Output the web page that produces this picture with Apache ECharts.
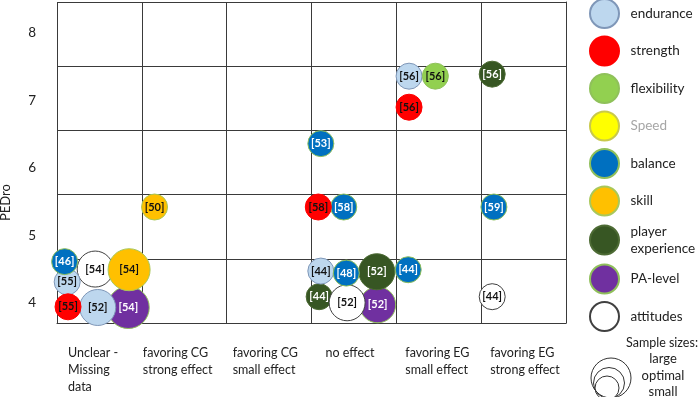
<!DOCTYPE html>
<html>
<head>
<meta charset="utf-8">
<script src="https://cdn.jsdelivr.net/npm/echarts@6/dist/echarts.min.js"></script>
<style>
    html, body { margin: 0; padding: 0; background: #fff; }
    #chart { width: 700px; height: 397px; }
</style>
</head>
<body>
<div id="chart"></div>
<script>
// x categories (one column per effect) and PEDro ticks
var effectLabels = ['Unclear -\nMissing\ndata', 'favoring CG\nstrong effect', 'favoring CG\nsmall effect', 'no effect', 'favoring EG\nsmall effect', 'favoring EG\nstrong effect'];
var pedroTicks = [4, 5, 6, 7, 8];
var outcomes = ['endurance', 'strength', 'flexibility', 'Speed', 'balance', 'skill', 'player experience', 'PA-level', 'attitudes'];
var sampleSizes = ['large', 'optimal', 'small'];

// [effect column position, PEDro position, reference, sample size]
var endurance = [[0.12, 4.31, 55, 'small'], [0.48, 3.93, 52, 'optimal'], [3.11, 4.47, 44, 'small'], [4.15, 7.36, 56, 'small']];
var strength = [[0.13, 3.94, 55, 'small'], [3.08, 5.42, 58, 'small'], [4.15, 6.90, 56, 'small']];
var flexibility = [[4.46, 7.36, 56, 'small']];
var speed = [];
var balance = [[0.09, 4.61, 46, 'small'], [3.11, 6.36, 53, 'small'], [3.38, 5.42, 58, 'small'], [3.41, 4.44, 48, 'small'], [4.14, 4.49, 44, 'small'], [5.15, 5.42, 59, 'small']];
var skill = [[1.15, 5.42, 50, 'small'], [0.85, 4.49, 54, 'large']];
var playerExperience = [[3.77, 4.46, 52, 'optimal'], [3.09, 4.09, 44, 'small'], [5.13, 7.39, 56, 'small']];
var paLevel = [[0.84, 3.93, 54, 'large'], [3.78, 3.97, 52, 'optimal']];
var attitudes = [[0.45, 4.50, 54, 'optimal'], [3.42, 4.00, 52, 'optimal'], [5.13, 4.09, 44, 'small']];

var seriesData = [endurance, strength, flexibility, speed, balance, skill, playerExperience, paLevel, attitudes];

// styles
var fills = ['#bdd7ee', '#ff0000', '#92d050', '#ffff00', '#0070c0', '#ffc000', '#375623', '#7030a0', '#ffffff'];
var borders = ['#7f97b8', '#ff0000', '#8fc15a', '#c9c94a', '#8fbf5a', '#a9c85a', '#4d6b34', '#8fbf5a', '#404040'];
var labelColors = ['#111', '#111', '#111', '#111', '#fff', '#111', '#fff', '#fff', '#111'];
var zOrder = [4, 7, 8, 2, 6, 5, 2, 1, 3];
var sizePx = { large: 42, optimal: 36, small: 26 };
var labelPad = [11, 1, 6, 14, 9, 9];
var font = 'Lato, "Liberation Sans", sans-serif';

var chart = echarts.init(document.getElementById('chart'));

var rich = {};
labelPad.forEach(function (p, i) {
    rich['c' + i] = { padding: [0, 0, 0, p], lineHeight: 17, fontSize: 12.5, color: '#222', fontFamily: font, align: 'left' };
});

var series = outcomes.map(function (name, i) {
    return {
        name: name,
        type: 'scatter',
        xAxisIndex: 0,
        yAxisIndex: 0,
        z: zOrder[i],
        data: seriesData[i],
        symbolSize: function (val) {
            return sizePx[val[3]];
        },
        itemStyle: {
            color: fills[i],
            borderColor: borders[i],
            borderWidth: 1,
            opacity: 1
        },
        emphasis: { disabled: true },
        label: {
            show: true,
            position: 'inside',
            fontFamily: font,
            fontSize: 11,
            fontWeight: 'bold',
            color: labelColors[i],
            formatter: function (p) {
                return '[' + p.data[2] + ']';
            }
        }
    };
});

var option = {
    animation: false,
    backgroundColor: '#fff',
    grid: { left: 57, right: 134, top: 2, bottom: 74, outerBoundsMode: 'none', containLabel: false },
    xAxis: {
        type: 'value',
        min: 0,
        max: 6,
        interval: 1,
        axisLine: { show: true, lineStyle: { color: '#3a3a3a', width: 1 } },
        axisTick: { show: false },
        splitLine: { show: true, lineStyle: { color: '#3a3a3a', width: 1 } },
        axisLabel: {
            margin: 21,
            align: 'left',
            verticalAlign: 'top',
            formatter: function (value) {
                var i = Math.round(value);
                if (i >= effectLabels.length) {
                    return '';
                }
                return '{c' + i + '|' + effectLabels[i] + '}';
            },
            rich: rich
        }
    },
    yAxis: [
        {
            // PEDro scale, labels only
            type: 'value',
            min: 3.7,
            max: 8.46,
            name: 'PEDro',
            nameLocation: 'middle',
            nameGap: 45,
            nameTextStyle: { fontFamily: font, fontSize: 13, color: '#222', padding: [0, 80, 0, 0] },
            axisLine: { show: false },
            axisTick: { show: false },
            splitLine: { show: false },
            axisLabel: {
                customValues: pedroTicks,
                margin: 21,
                fontFamily: font,
                fontSize: 13.5,
                color: '#222'
            }
        },
        {
            // grid rows
            type: 'value',
            min: 0,
            max: 5,
            interval: 1,
            axisLine: { show: true, lineStyle: { color: '#3a3a3a', width: 1 } },
            axisTick: { show: false },
            axisLabel: { show: false },
            splitLine: { show: true, lineStyle: { color: '#3a3a3a', width: 1 } }
        }
    ],
    legend: {
        orient: 'vertical',
        left: 589,
        top: -2,
        padding: 0,
        itemWidth: 30,
        itemHeight: 29,
        itemGap: 6.5,
        icon: 'circle',
        selectedMode: false,
        textStyle: { fontFamily: font, fontSize: 13.5, color: '#222', lineHeight: 17, padding: [0, 0, 0, 6] },
        formatter: function (name) {
            return name === 'player experience' ? 'player\nexperience' : name;
        },
        data: outcomes.map(function (name) {
            if (name === 'Speed') {
                return { name: name, textStyle: { color: '#a6a6a6' } };
            }
            return name;
        })
    },
    graphic: [
        { type: 'text', x: 662, y: 343, style: { text: 'Sample sizes:', font: '12.5px ' + font, fill: '#222', align: 'center', verticalAlign: 'middle' } },
        { type: 'text', x: 663, y: 351, style: { text: sampleSizes.join('\n'), font: '13px ' + font, fill: '#222', lineHeight: 16.5, align: 'center', verticalAlign: 'top' } },
        { type: 'circle', shape: { cx: 611, cy: 378, r: 20 }, style: { fill: 'none', stroke: '#333', lineWidth: 1 } },
        { type: 'circle', shape: { cx: 609, cy: 383, r: 15.5 }, style: { fill: 'none', stroke: '#333', lineWidth: 1 } },
        { type: 'circle', shape: { cx: 607, cy: 388, r: 12 }, style: { fill: 'none', stroke: '#333', lineWidth: 1 } }
    ],
    series: series
};

chart.setOption(option);
</script>
</body>
</html>
